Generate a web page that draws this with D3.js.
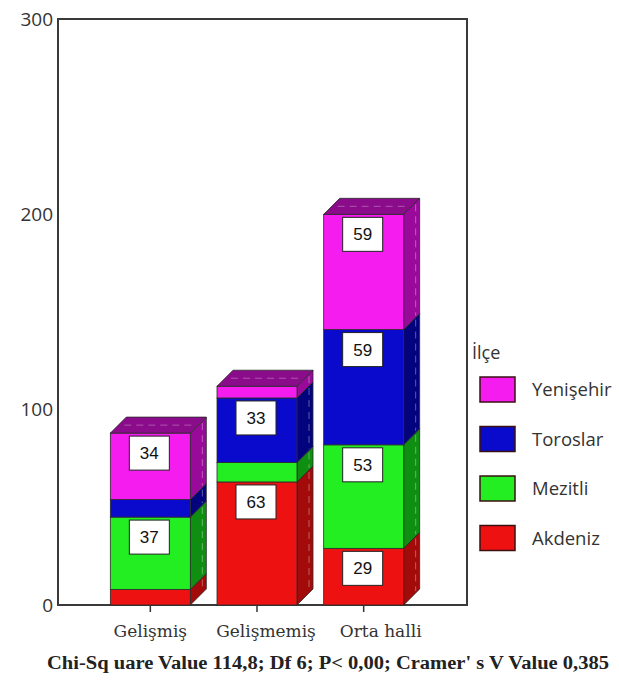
<!DOCTYPE html>
<html>
<head>
<meta charset="utf-8">
<script src="https://cdn.jsdelivr.net/npm/d3@7/dist/d3.min.js"></script>
<style>
  html, body { margin: 0; padding: 0; background: #fff; }
  svg { display: block; }
</style>
</head>
<body>
<svg id="chart" width="619" height="684"></svg>
<script>
// ---- data ----
const categories = ["Gelişmiş", "Gelişmemiş", "Orta halli"];
const seriesNames = ["Akdeniz", "Mezitli", "Toroslar", "Yenişehir"]; // bottom -> top
const akdeniz   = [8, 63, 29];
const mezitli   = [37, 10, 53];
const toroslar  = [9, 33, 59];
const yenisehir = [34, 6, 59];
const yTicks = [0, 100, 200, 300];
const legendTitle = "İlçe";
const caption = "Chi-Sq uare Value 114,8; Df 6; P< 0,00; Cramer' s V Value 0,385";

// ---- styles ----
const frontColors = { "Akdeniz": "#ee1111", "Mezitli": "#22ee22", "Toroslar": "#0a0acc", "Yenişehir": "#f51cf0" };
const sideColors  = { "Akdeniz": "#a30a0a", "Mezitli": "#0f8f12", "Toroslar": "#03037e", "Yenişehir": "#9a0a9a" };
const topColors   = { "Akdeniz": "#8e0808", "Mezitli": "#0c7a0e", "Toroslar": "#020270", "Yenişehir": "#8a0c8a" };

const svg = d3.select("#chart");
const frame = { left: 58, right: 467, top: 19, bottom: 605 };
const depth = 16;
const labelShift = [0, 9, 17];

const x = d3.scaleBand().domain(categories).range([97, 417]).paddingInner(0.25).paddingOuter(0.125);
const y = d3.scaleLinear().domain([0, 300]).range([frame.bottom, frame.top]);

const table = categories.map((c, i) => ({
  cat: c, Akdeniz: akdeniz[i], Mezitli: mezitli[i], Toroslar: toroslar[i], "Yenişehir": yenisehir[i]
}));
const stacked = d3.stack().keys(seriesNames)(table);

// frame
svg.append("rect")
  .attr("x", frame.left).attr("y", frame.top)
  .attr("width", frame.right - frame.left).attr("height", frame.bottom - frame.top)
  .attr("fill", "#fff").attr("stroke", "#3a3a3a").attr("stroke-width", 2);

// bars
const bw = x.bandwidth();
const gBars = svg.append("g");
categories.forEach((c, ci) => {
  const x0 = x(c), x1 = x0 + bw;
  stacked.forEach((layer, li) => {
    const s = layer[ci];
    const yb = y(s[0]), yt = y(s[1]);
    if (s[1] - s[0] <= 0) return;
    const key = layer.key;
    // side face
    gBars.append("path")
      .attr("d", `M${x1},${yt} L${x1 + depth},${yt - depth} L${x1 + depth},${yb - depth} L${x1},${yb} Z`)
      .attr("fill", sideColors[key]).attr("stroke", "#2a2a2a").attr("stroke-width", 0.8);
    // faint dashed highlight on side
    gBars.append("line")
      .attr("x1", x1 + depth - 4).attr("x2", x1 + depth - 4)
      .attr("y1", yt - depth + 6).attr("y2", yb - depth + 2)
      .attr("stroke", "rgba(255,255,255,0.35)").attr("stroke-width", 1).attr("stroke-dasharray", "7,5");
    // front face
    gBars.append("rect")
      .attr("x", x0).attr("y", yt).attr("width", bw).attr("height", yb - yt)
      .attr("fill", frontColors[key]).attr("stroke", "#2a2a2a").attr("stroke-width", 0.8);
  });
  // top face of stack
  const topLayer = stacked[stacked.length - 1][ci];
  const topKey = stacked[stacked.length - 1].key;
  const yt = y(topLayer[1]);
  gBars.append("path")
    .attr("d", `M${x0},${yt} L${x0 + depth},${yt - depth} L${x1 + depth},${yt - depth} L${x1},${yt} Z`)
    .attr("fill", topColors[topKey]).attr("stroke", "#2a2a2a").attr("stroke-width", 0.8);
  gBars.append("line")
    .attr("x1", x0 + depth / 2 + 6).attr("x2", x1 + depth / 2 - 2)
    .attr("y1", yt - depth / 2).attr("y2", yt - depth / 2)
    .attr("stroke", "rgba(255,255,255,0.3)").attr("stroke-width", 1).attr("stroke-dasharray", "7,5");

  // value labels
  stacked.forEach(layer => {
    const s = layer[ci];
    const v = s[1] - s[0];
    if (v < 20) return;
    const cx = x0 + bw / 2 - 1;
    const top = y(s[1]) + 3;
    const g = gBars.append("g");
    g.append("rect").attr("x", cx - 20).attr("y", top).attr("width", 40).attr("height", 34)
      .attr("fill", "#fff").attr("stroke", "#222").attr("stroke-width", 1);
    g.append("text").attr("x", cx).attr("y", top + 17).attr("dy", "0.36em")
      .attr("text-anchor", "middle").attr("font-family", "Liberation Sans, Arial, sans-serif")
      .attr("font-size", 17).attr("fill", "#111").text(v);
  });
});

// y axis labels
const yAxis = d3.axisLeft(y).tickValues(yTicks).tickSize(0).tickPadding(5);
const gy = svg.append("g").attr("transform", `translate(${frame.left},0)`).call(yAxis);
gy.select(".domain").remove();
gy.selectAll("text").attr("font-family", "Open Sans, sans-serif").attr("font-size", 19).attr("fill", "#333");

// x axis
const xAxis = d3.axisBottom(x).tickSize(7).tickFormat("");
const gx = svg.append("g").attr("transform", `translate(0,${frame.bottom})`).call(xAxis);
gx.select(".domain").remove();
gx.selectAll("line").attr("stroke", "#333").attr("stroke-width", 1.5);
svg.append("g").selectAll("text").data(categories).join("text")
  .attr("x", (d, i) => x(d) + bw / 2 + labelShift[i])
  .attr("y", 637)
  .attr("text-anchor", "middle")
  .attr("font-family", "DejaVu Serif, serif").attr("font-size", 17).attr("fill", "#333")
  .text(d => d);

// legend
const lg = svg.append("g");
lg.append("text").attr("x", 472).attr("y", 359).attr("font-family", "Open Sans, sans-serif")
  .attr("font-size", 18).attr("fill", "#333").text(legendTitle);
const legendOrder = seriesNames.slice().reverse();
legendOrder.forEach((k, i) => {
  const yy = 377 + i * 49.5;
  lg.append("rect").attr("x", 480).attr("y", yy).attr("width", 35).attr("height", 25)
    .attr("fill", frontColors[k]).attr("stroke", "#3a1010").attr("stroke-width", 1.5);
  lg.append("text").attr("x", 532).attr("y", yy + 12.5).attr("dy", "0.36em")
    .attr("font-family", "Open Sans, sans-serif").attr("font-size", 18.5).attr("fill", "#333").text(k);
});

// caption
svg.append("text").attr("x", 328).attr("y", 669).attr("text-anchor", "middle")
  .attr("font-family", "Liberation Serif, Times New Roman, serif").attr("font-weight", "bold")
  .attr("font-size", 18.5).attr("textLength", 562).attr("lengthAdjust", "spacingAndGlyphs")
  .attr("fill", "#222").text(caption);
</script>
</body>
</html>
